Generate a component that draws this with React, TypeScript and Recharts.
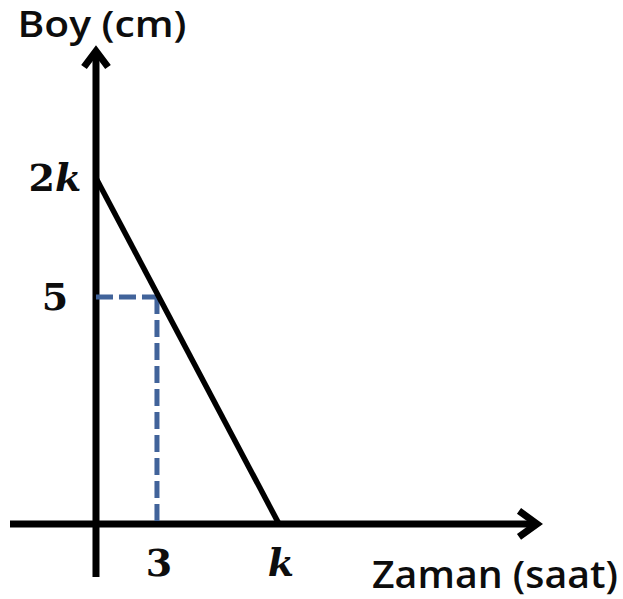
import React from 'react';
import { ComposedChart, Line, XAxis, YAxis, ReferenceLine } from 'recharts';

// ---- data (schematic units) ----
const timeValues = [0, 9];
const heightValues = [7.62, 0];
const xTicks = [3, 9];
const xTickLabels = ['3', 'k'];
const yTicks = [5, 7.62];
const yTickLabels = ['5', '2k'];
const guideX = 3;
const guideY = 5;
const xDomain = [-4.23, 21.99];
const yDomain = [-1.17, 10.55];
const xTitle = 'Zaman (saat)';
const yTitle = 'Boy (cm)';

const data = timeValues.map((t, i) => ({ t, h: heightValues[i] }));

const MATH_FONT = '"DejaVu Serif", "Liberation Serif", serif';
const TITLE_FONT = '"Open Sans", "Noto Sans", sans-serif';
const INK = '#0d0d0d';
const GUIDE = '#41639a';

const mathSpans = (s: string) =>
  s.split('').map((ch, i) => (
    <tspan key={i} fontStyle={/[a-z]/.test(ch) ? 'italic' : 'normal'}>{ch}</tspan>
  ));

const labelFor = (ticks: number[], labels: string[], v: number) => {
  const idx = ticks.findIndex((t) => Math.abs(t - v) < 1e-6);
  return idx >= 0 ? labels[idx] : '';
};

const XTick = (props: any) => {
  const { x, y, payload } = props;
  return (
    <text x={x + 2} y={y - 1} textAnchor="middle" fontFamily={MATH_FONT} fontWeight="bold" fontSize={38} fill={INK}>
      {mathSpans(labelFor(xTicks, xTickLabels, payload.value))}
    </text>
  );
};

const YTick = (props: any) => {
  const { x, y, payload } = props;
  return (
    <text x={x + 45} y={y + 13} textAnchor="middle" fontFamily={MATH_FONT} fontWeight="bold" fontSize={38} fill={INK}>
      {mathSpans(labelFor(yTicks, yTickLabels, payload.value))}
    </text>
  );
};

const VerticalAxisShape = (props: any) => {
  const { x1, y1, y2 } = props;
  const top = Math.min(y1, y2);
  const bottom = Math.max(y1, y2);
  const x = x1;
  return (
    <g>
      <line x1={x} y1={top + 6} x2={x} y2={bottom} stroke="#000" strokeWidth={7} />
      <polyline
        points={`${x - 12},${top + 22} ${x},${top + 6} ${x + 12},${top + 22}`}
        fill="none"
        stroke="#000"
        strokeWidth={7}
        strokeLinejoin="miter"
      />
      <text x={x + 6} y={top - 8} textAnchor="middle" fontFamily={TITLE_FONT} fontWeight={600} fontSize={36}
        fill={INK} textLength={169} lengthAdjust="spacingAndGlyphs">
        {yTitle}
      </text>
    </g>
  );
};

const HorizontalAxisShape = (props: any) => {
  const { x1, x2, y1 } = props;
  const left = Math.min(x1, x2);
  const right = Math.max(x1, x2);
  const y = y1;
  return (
    <g>
      <line x1={left} y1={y} x2={right - 6} y2={y} stroke="#000" strokeWidth={7} />
      <polyline
        points={`${right - 24},${y - 13} ${right - 6},${y} ${right - 24},${y + 13}`}
        fill="none"
        stroke="#000"
        strokeWidth={7}
        strokeLinejoin="miter"
      />
      <text x={right - 171} y={y + 64} textAnchor="start" fontFamily={TITLE_FONT} fontWeight={600} fontSize={37}
        fill={INK} textLength={246} lengthAdjust="spacingAndGlyphs">
        {xTitle}
      </text>
    </g>
  );
};

export default function App() {
  return (
    <div style={{ position: 'absolute', left: 0, top: 0, width: 623, height: 599, background: '#fff' }}>
      <ComposedChart width={623} height={599} data={data} margin={{ top: 45, right: 80, bottom: 22, left: 10 }}>
        <XAxis
          dataKey="t"
          type="number"
          domain={xDomain}
          allowDataOverflow
          ticks={xTicks}
          interval={0}
          axisLine={false}
          tickLine={false}
          tickSize={0}
          tickMargin={0}
          mirror
          height={30}
          tick={<XTick />}
        />
        <YAxis
          type="number"
          domain={yDomain}
          allowDataOverflow
          ticks={yTicks}
          interval={0}
          axisLine={false}
          tickLine={false}
          tickSize={0}
          tickMargin={0}
          mirror
          width={60}
          tick={<YTick />}
        />
        <ReferenceLine y={0} shape={HorizontalAxisShape} ifOverflow="visible" />
        <ReferenceLine x={0} shape={VerticalAxisShape} ifOverflow="visible" />
        <ReferenceLine
          segment={[{ x: 0, y: guideY }, { x: guideX, y: guideY }]}
          stroke={GUIDE}
          strokeWidth={5}
          strokeDasharray="17 6"
          ifOverflow="visible"
        />
        <ReferenceLine
          segment={[{ x: guideX, y: guideY }, { x: guideX, y: 0 }]}
          stroke={GUIDE}
          strokeWidth={5}
          strokeDasharray="17 6"
          ifOverflow="visible"
        />
        <Line
          dataKey="h"
          stroke="#000"
          strokeWidth={5.5}
          dot={false}
          activeDot={false}
          isAnimationActive={false}
          type="linear"
        />
      </ComposedChart>
    </div>
  );
}
